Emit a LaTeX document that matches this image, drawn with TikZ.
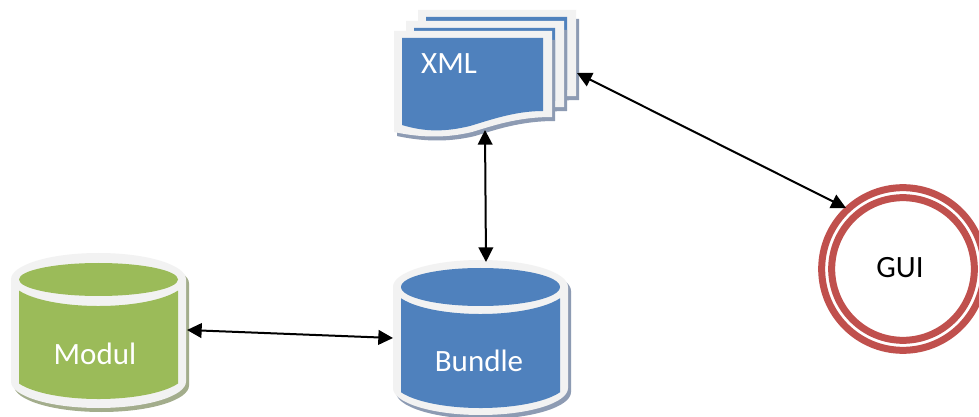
\documentclass[tikz,border=0pt]{standalone}
\usepackage{fontspec}
\setmainfont{Carlito}
\usetikzlibrary{arrows.meta}
\definecolor{bluefill}{HTML}{4F81BD}
\definecolor{greenfill}{HTML}{9BBB59}
\definecolor{redline}{HTML}{C0504D}
\definecolor{band}{HTML}{F2F2F2}
\definecolor{blueshadow}{HTML}{8D9BB3}
\definecolor{greenshadow}{HTML}{A3AD8C}
\tikzset{
  link/.style={black,line width=1.5pt,{Triangle[length=11pt,width=11pt]}-{Triangle[length=11pt,width=11pt]},shorten >=0pt,shorten <=0pt},
  lightlabel/.style={text=white,font=\fontsize{23.25pt}{28pt}\selectfont,inner sep=0pt},
  darklabel/.style={text=black,font=\fontsize{23.25pt}{28pt}\selectfont,inner sep=0pt},
  ring/.style={circle,draw=redline,line width=5.25pt,fill=none,inner sep=0pt}
}
% cx, top-centre y, outer ry, bottom-centre y(outer), inner ry, fill, shadow, inner bottom centre y
\newcommand{\drumshape}[8]{%
  \fill[#7,shift={(3,4)}] (#1-87.5,#2) arc[start angle=180,end angle=360,x radius=87.5,y radius=#3] -- (#1+87.5,#4) arc[start angle=0,end angle=180,x radius=87.5,y radius=#3] -- cycle;
  \fill[band] (#1-87.5,#2) arc[start angle=180,end angle=360,x radius=87.5,y radius=#3] -- (#1+87.5,#4) arc[start angle=0,end angle=180,x radius=87.5,y radius=#3] -- cycle;
  \fill[#6] (#1,#2) ellipse[x radius=79.5,y radius=#5];
  \fill[#6] (#1+79.5,#2+0.418*#3) -- (#1+79.5,#8+0.418*#3) arc[start angle=24.7,end angle=155.3,x radius=87.5,y radius=#3] -- (#1-79.5,#2+0.418*#3) arc[start angle=155.3,end angle=24.7,x radius=87.5,y radius=#3] -- cycle;
}
\newcommand{\sheet}[2]{%
  \begin{scope}[shift={(#1,#2)}]
    \fill[blueshadow] (397,40) -- (555,40) -- (555,121) .. controls (520,121) and (495,130) .. (475,136) .. controls (450,142) and (425,142) .. (397,136) -- cycle;
    \fill[band] (394,31) -- (552,31) -- (552,117) .. controls (517,117) and (492,126) .. (472,132) .. controls (447,138) and (422,138) .. (394,132) -- cycle;
    \fill[bluefill] (402,38) -- (543,38) -- (543,111) .. controls (515,111) and (490,120) .. (470,126) .. controls (445,132) and (425,132) .. (402,125) -- cycle;
  \end{scope}
}
\begin{document}
\begin{tikzpicture}[x=0.75pt,y=-0.75pt]
\useasboundingbox (0,0) rectangle (979,417);
\clip (0,0) rectangle (979,417);
\fill[white] (0,0) rectangle (979,417);
\sheet{24}{-21}
\sheet{12}{-10}
\sheet{0}{0}
\drumshape{98.5}{279.5}{26.5}{381.5}{16.5}{greenfill}{greenshadow}{372.5}
\drumshape{480.5}{287}{27}{388}{19}{bluefill}{blueshadow}{381}
\node[ring,minimum size=122pt] (guiouter) at (903,269) {};
\node[ring,minimum size=107pt] (guiinner) at (903,269) {};
\node[lightlabel] (xmllabel) at (449,64) {XML};
\node[lightlabel] (modullabel) at (95,354) {Modul};
\node[lightlabel] (bundlelabel) at (479,361) {Bundle};
\node[darklabel] (guilabel) at (900,268) {GUI};
\coordinate (xmlright) at (577,73);
\coordinate (xmlbottom) at (485,130);
\coordinate (guiedge) at (846,208);
\coordinate (bundletop) at (486,262);
\coordinate (bundleleft) at (393,338);
\coordinate (modulright) at (187,330);
\draw[link] (xmlright) -- (guiedge);
\draw[link] (xmlbottom) -- (bundletop);
\draw[link] (modulright) -- (bundleleft);
\end{tikzpicture}
\end{document}
